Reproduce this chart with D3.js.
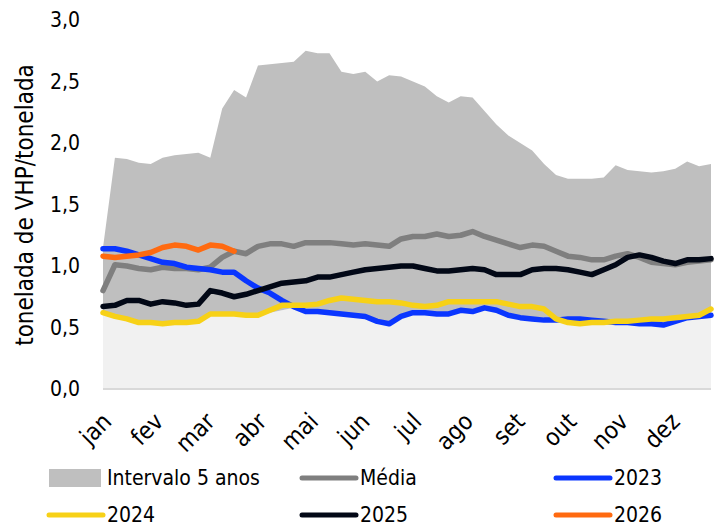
<!DOCTYPE html>
<html>
<head>
<meta charset="utf-8">
<script src="https://cdn.jsdelivr.net/npm/d3@7"></script>
<style>
  body { margin: 0; background: #fff; }
  text { font-family: "DejaVu Sans Condensed", "Liberation Sans Narrow", sans-serif; fill: #000; }
</style>
</head>
<body>
<div id="chart"></div>
<script>
// weekly data, 52 weeks
var months = ["jan", "fev", "mar", "abr", "mai", "jun", "jul", "ago", "set", "out", "nov", "dez"];
var yTicks = [0, 0.5, 1, 1.5, 2, 2.5, 3];

var rangeMax = [1.15, 1.88, 1.87, 1.84, 1.83, 1.88, 1.90, 1.91, 1.92, 1.88, 2.28, 2.43, 2.37, 2.63,
  2.64, 2.65, 2.66, 2.75, 2.73, 2.73, 2.58, 2.56, 2.58, 2.50, 2.55, 2.54, 2.50, 2.46, 2.38, 2.33,
  2.38, 2.37, 2.26, 2.15, 2.06, 2.00, 1.94, 1.83, 1.74, 1.71, 1.71, 1.71, 1.72, 1.82, 1.78, 1.77,
  1.76, 1.77, 1.79, 1.85, 1.81, 1.83];
var rangeMin = [0.61, 0.58, 0.56, 0.53, 0.53, 0.52, 0.53, 0.53, 0.54, 0.60, 0.60, 0.60, 0.59, 0.59,
  0.62, 0.64, 0.66, 0.62, 0.62, 0.61, 0.60, 0.59, 0.58, 0.54, 0.52, 0.58, 0.61, 0.61, 0.60, 0.60,
  0.63, 0.62, 0.65, 0.63, 0.59, 0.57, 0.56, 0.55, 0.55, 0.53, 0.52, 0.53, 0.53, 0.53, 0.53, 0.52,
  0.52, 0.51, 0.54, 0.57, 0.58, 0.59];
var media = [0.80, 1.01, 1.00, 0.98, 0.97, 0.99, 0.98, 0.98, 0.97, 0.99, 1.07, 1.12, 1.10, 1.16,
  1.18, 1.18, 1.16, 1.19, 1.19, 1.19, 1.18, 1.17, 1.18, 1.17, 1.16, 1.22, 1.24, 1.24, 1.26, 1.24,
  1.25, 1.28, 1.24, 1.21, 1.18, 1.15, 1.17, 1.16, 1.12, 1.08, 1.07, 1.05, 1.05, 1.08, 1.10, 1.07,
  1.03, 1.02, 1.01, 1.03, 1.04, 1.05];
var s2023 = [1.14, 1.14, 1.12, 1.09, 1.06, 1.03, 1.02, 0.99, 0.98, 0.97, 0.95, 0.95, 0.88, 0.82,
  0.78, 0.72, 0.67, 0.63, 0.63, 0.62, 0.61, 0.60, 0.59, 0.55, 0.53, 0.59, 0.62, 0.62, 0.61, 0.61,
  0.64, 0.63, 0.66, 0.64, 0.60, 0.58, 0.57, 0.56, 0.56, 0.57, 0.57, 0.56, 0.55, 0.54, 0.54, 0.53,
  0.53, 0.52, 0.55, 0.58, 0.59, 0.60];
var s2024 = [0.62, 0.59, 0.57, 0.54, 0.54, 0.53, 0.54, 0.54, 0.55, 0.61, 0.61, 0.61, 0.60, 0.60,
  0.64, 0.68, 0.68, 0.68, 0.69, 0.72, 0.74, 0.73, 0.72, 0.71, 0.71, 0.70, 0.68, 0.67, 0.68, 0.71,
  0.71, 0.71, 0.71, 0.71, 0.69, 0.67, 0.67, 0.65, 0.57, 0.54, 0.53, 0.54, 0.54, 0.55, 0.55, 0.56,
  0.57, 0.57, 0.58, 0.59, 0.60, 0.65];
var s2025 = [0.67, 0.68, 0.72, 0.72, 0.69, 0.71, 0.70, 0.68, 0.69, 0.80, 0.78, 0.75, 0.77, 0.80,
  0.83, 0.86, 0.87, 0.88, 0.91, 0.91, 0.93, 0.95, 0.97, 0.98, 0.99, 1.00, 1.00, 0.98, 0.96, 0.96,
  0.97, 0.98, 0.97, 0.93, 0.93, 0.93, 0.97, 0.98, 0.98, 0.97, 0.95, 0.93, 0.97, 1.01, 1.07, 1.09,
  1.07, 1.04, 1.02, 1.05, 1.05, 1.06];
var s2026 = [1.08, 1.07, 1.08, 1.09, 1.11, 1.15, 1.17, 1.16, 1.13, 1.17, 1.16, 1.12];

var lineSeries = [
  { name: "Média", values: media, color: "#7f7f7f" },
  { name: "2023", values: s2023, color: "#0a36ff" },
  { name: "2024", values: s2024, color: "#f7d117" },
  { name: "2025", values: s2025, color: "#020816" },
  { name: "2026", values: s2026, color: "#ff6a10" }
];

var width = 714, height = 529;
var margin = { top: 20, right: 3, bottom: 140, left: 103 };

var svg = d3.select("#chart").append("svg")
    .attr("width", width)
    .attr("height", height);

var x = d3.scaleLinear()
    .domain([0, rangeMax.length - 1])
    .range([margin.left, width - margin.right]);

var y = d3.scaleLinear()
    .domain([0, 3])
    .range([389, 20]);

// lower part (0 to minimum) and the 5-year band
var lowArea = d3.area()
    .x(function(d, i) { return x(i); })
    .y0(y(0))
    .y1(function(d) { return y(d); });

var band = d3.area()
    .x(function(d, i) { return x(i); })
    .y0(function(d, i) { return y(rangeMin[i]); })
    .y1(function(d) { return y(d); });

svg.append("path")
    .attr("d", lowArea(rangeMin))
    .attr("fill", "#f1f1f1");

svg.append("path")
    .attr("d", band(rangeMax))
    .attr("fill", "#bfbfbf");

// baseline
svg.append("line")
    .attr("x1", x(0)).attr("x2", x(rangeMax.length - 1))
    .attr("y1", y(0)).attr("y2", y(0))
    .attr("stroke", "#d9d9d9")
    .attr("stroke-width", 2);

var line = d3.line()
    .x(function(d, i) { return x(i); })
    .y(function(d) { return y(d); });

svg.selectAll(".serie")
    .data(lineSeries)
    .enter()
    .append("path")
    .attr("class", "serie")
    .attr("d", function(d) { return line(d.values); })
    .attr("fill", "none")
    .attr("stroke", function(d) { return d.color; })
    .attr("stroke-width", 5.5)
    .attr("stroke-linejoin", "round")
    .attr("stroke-linecap", "round");

// y axis labels
var yAxis = d3.axisLeft(y)
    .tickValues(yTicks)
    .tickSize(0)
    .tickPadding(0)
    .tickFormat(function(d) { return d3.format(".1f")(d).replace(".", ","); });

var yg = svg.append("g")
    .attr("transform", "translate(80,0)")
    .call(yAxis);
yg.select(".domain").remove();
yg.selectAll("text")
    .style("font-size", "21px")
    .style("font-family", "DejaVu Sans Condensed, sans-serif");

svg.append("text")
    .attr("transform", "translate(33,205) rotate(-90)")
    .attr("text-anchor", "middle")
    .style("font-size", "24px")
    .text("tonelada de VHP/tonelada");

// month labels
svg.selectAll(".month")
    .data(months)
    .enter()
    .append("text")
    .attr("class", "month")
    .attr("text-anchor", "end")
    .attr("transform", function(d, i) {
        return "translate(" + (x(i * 52 / 12) + 10) + ",423) rotate(-45)";
    })
    .style("font-size", "24px")
    .text(function(d) { return d; });

// legend
var legendItems = [
  { name: "Intervalo 5 anos", color: "#bfbfbf", box: true, lx: 49, ly: 478 },
  { name: "Média", color: "#7f7f7f", lx: 302, ly: 478 },
  { name: "2023", color: "#0a36ff", lx: 556, ly: 478 },
  { name: "2024", color: "#f7d117", lx: 49, ly: 515 },
  { name: "2025", color: "#020816", lx: 302, ly: 515 },
  { name: "2026", color: "#ff6a10", lx: 556, ly: 515 }
];

var legend = svg.selectAll(".legend")
    .data(legendItems)
    .enter()
    .append("g")
    .attr("class", "legend")
    .attr("transform", function(d) { return "translate(" + d.lx + "," + d.ly + ")"; });

legend.each(function(d) {
    var g = d3.select(this);
    if (d.box) {
        g.append("rect")
            .attr("x", 0).attr("y", -9)
            .attr("width", 52).attr("height", 18)
            .attr("fill", d.color);
    } else {
        g.append("line")
            .attr("x1", 0).attr("x2", 54)
            .attr("y1", 0).attr("y2", 0)
            .attr("stroke", d.color)
            .attr("stroke-width", 5)
            .attr("stroke-linecap", "round");
    }
    g.append("text")
        .attr("x", 58)
        .attr("dy", "0.35em")
        .style("font-size", "21px")
        .text(d.name);
});
</script>
</body>
</html>
